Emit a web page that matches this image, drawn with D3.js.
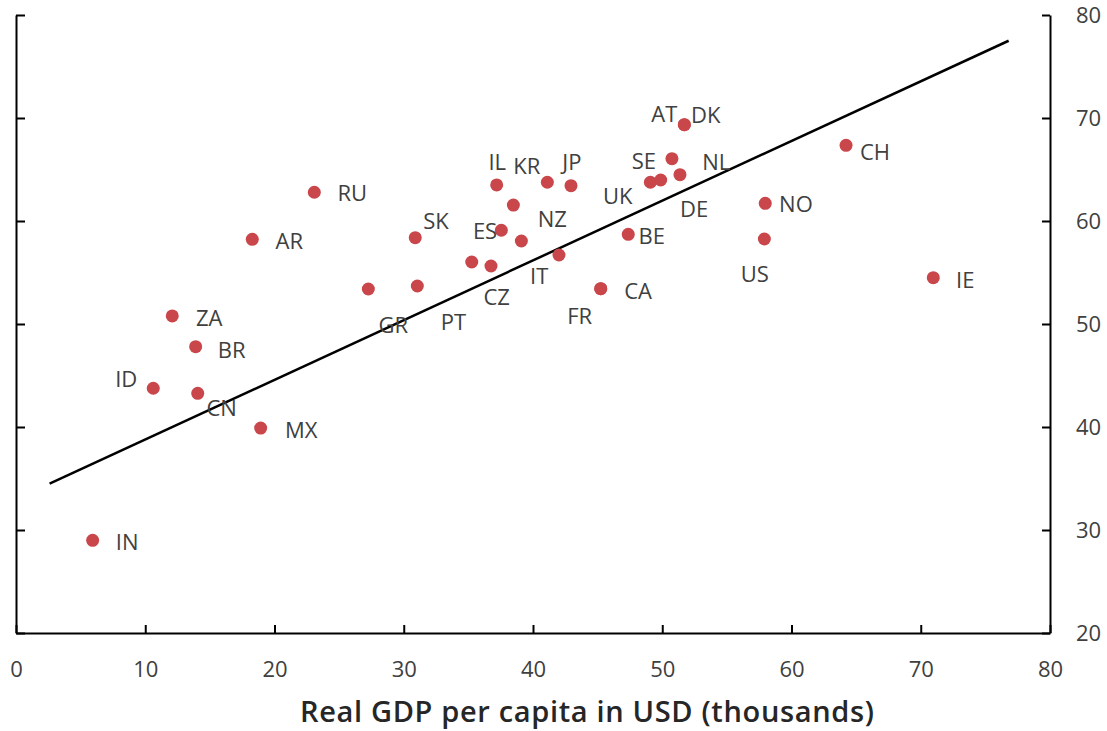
<!DOCTYPE html>
<html>
<head>
<meta charset="utf-8">
<script src="https://cdn.jsdelivr.net/npm/d3@7"></script>
<style>
  html, body { margin: 0; padding: 0; background: #ffffff; }
  svg { display: block; font-family: "Open Sans", "Noto Sans", sans-serif; }
</style>
</head>
<body>
<svg id="chart" width="1107" height="731"></svg>
<script>
// Country codes (blank = point drawn without a label)
const codes = ["IN","ID","ZA","BR","CN","MX","AR","RU","GR","PT","SK","CZ","","IL","NZ","ES","","KR","JP","IT","FR","CA","BE","UK","DE","SE","NL","AT","DK","CH","NO","US","IE"];
// Real GDP per capita, thousands of USD
const gdp = [5.93,10.62,12.09,13.90,14.06,18.93,18.28,23.08,27.26,31.05,30.89,35.26,36.75,37.19,38.48,37.55,39.10,41.11,42.94,42.01,45.24,45.24,47.37,49.08,49.88,50.75,51.37,51.71,51.71,64.22,57.97,57.90,70.97];
// Index value (right axis)
const score = [29.0,43.76,50.78,47.80,43.27,39.90,58.22,62.79,53.40,53.69,58.38,56.02,55.63,63.50,61.55,59.10,58.06,63.76,63.43,56.70,53.43,53.43,58.71,63.76,63.98,66.05,64.50,69.35,69.35,67.35,61.72,58.25,54.50];
// Fitted trend line end points
const trendGdp = [2.6, 76.8];
const trendScore = [34.5, 77.5];
// Axis ticks
const xTicks = [0,10,20,30,40,50,60,70,80];
const yTicks = [20,30,40,50,60,70,80];
const xTitle = "Real GDP per capita in USD (thousands)";

// Label placement: offset of label centre from its point, in px
const labelOffset = {
  IN:[34.5,2], ID:[-27,-9], ZA:[37,2], BR:[36,3], CN:[24,15], MX:[40.5,2.5],
  AR:[37,2], RU:[38,1], GR:[25,36], PT:[36,35.7], SK:[20.7,-16.4], CZ:[25,35],
  IL:[0.6,-23], NZ:[39,14], ES:[-16.3,0.4], KR:[-20.6,-16.1], JP:[0.8,-24],
  IT:[-19.8,21.2], FR:[-21,27.6], CA:[37.3,2.6], BE:[23.4,1.9], UK:[-32.6,13.9],
  DE:[33.5,28.8], SE:[-28,2], NL:[36.3,-12.2], AT:[-20,-11], DK:[21.4,-9.4],
  CH:[29,6.7], NO:[30.7,0.7], US:[-9.5,34.8], IE:[32,2]
};

const plot = { left: 16, right: 1050, top: 15, bottom: 633 };
const svg = d3.select("#chart");

const x = d3.scaleLinear().domain([0, 80]).range([plot.left, plot.right]);
const y = d3.scaleLinear().domain([20, 80]).range([plot.bottom, plot.top]);

const textColor = "#404040";
const fontSize = 22;

function styleAxis(g) {
  g.select(".domain").attr("stroke", "#000").attr("stroke-width", 2);
  g.selectAll(".tick line").attr("stroke", "#000").attr("stroke-width", 2);
  g.selectAll(".tick text").attr("fill", textColor).style("font-size", fontSize + "px")
    .style("font-family", "'Open Sans', 'Noto Sans', sans-serif");
}

// Left axis: ticks only, pointing inward
svg.append("g")
  .attr("transform", `translate(${plot.left},0)`)
  .call(d3.axisRight(y).tickValues(yTicks).tickSizeInner(9).tickSizeOuter(0).tickFormat(""))
  .call(styleAxis);

// Right axis: ticks pointing inward, labels outside
svg.append("g")
  .attr("transform", `translate(${plot.right},0)`)
  .call(d3.axisRight(y).tickValues(yTicks).tickSizeInner(-8).tickSizeOuter(0).tickPadding(26).tickFormat(d3.format("d")))
  .call(styleAxis);

// Bottom axis: ticks pointing up
svg.append("g")
  .attr("transform", `translate(0,${plot.bottom})`)
  .call(d3.axisBottom(x).tickValues(xTicks).tickSizeInner(-8).tickSizeOuter(0).tickPadding(28).tickFormat(d3.format("d")))
  .call(styleAxis);

// Trend line
svg.append("line")
  .attr("x1", x(trendGdp[0])).attr("y1", y(trendScore[0]))
  .attr("x2", x(trendGdp[1])).attr("y2", y(trendScore[1]))
  .attr("stroke", "#000").attr("stroke-width", 2.5);

const data = codes.map((c, i) => ({ code: c, gdp: gdp[i], score: score[i] }));

// Points
svg.append("g").selectAll("circle")
  .data(data)
  .join("circle")
  .attr("cx", d => x(d.gdp))
  .attr("cy", d => y(d.score))
  .attr("r", 6.5)
  .attr("fill", "#C9464B");

// Country labels
const capHalf = fontSize * 0.714 / 2;
svg.append("g").selectAll("text")
  .data(data.filter(d => d.code))
  .join("text")
  .attr("x", d => x(d.gdp) + labelOffset[d.code][0])
  .attr("y", d => y(d.score) + labelOffset[d.code][1] + capHalf)
  .attr("text-anchor", "middle")
  .attr("fill", textColor)
  .style("font-size", fontSize + "px")
  .text(d => d.code);

// Axis title
svg.append("text")
  .attr("x", 587)
  .attr("y", 722)
  .attr("text-anchor", "middle")
  .attr("fill", "#262626")
  .attr("textLength", 574)
  .attr("lengthAdjust", "spacing")
  .style("font-size", "29px")
  .style("font-weight", 600)
  .text(xTitle);
</script>
</body>
</html>
